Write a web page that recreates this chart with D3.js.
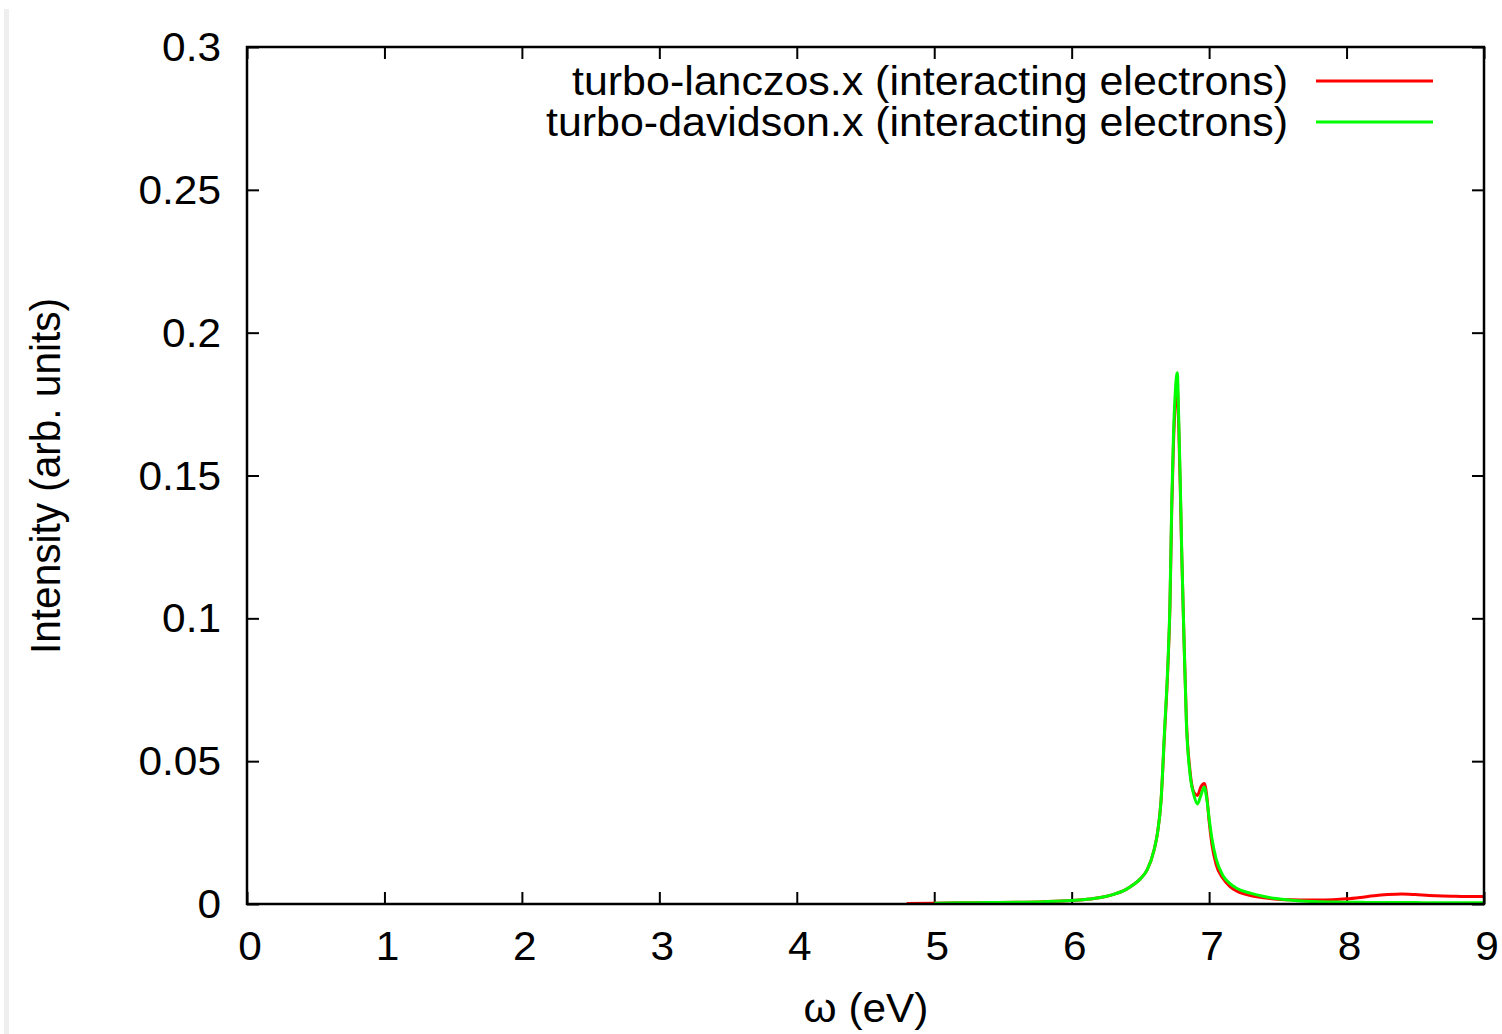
<!DOCTYPE html>
<html><head><meta charset="utf-8">
<script src="https://cdn.jsdelivr.net/npm/d3@7"></script>
<style>
html,body{margin:0;padding:0;background:#fff;}
svg{display:block;}
text{font-family:"Liberation Sans",Arial,Helvetica,sans-serif;fill:#000;}
</style></head>
<body>
<svg id="chart" width="1502" height="1034"></svg>
<script>
// ---- data ----
const energy = [4.8,5.0,5.2,5.4,5.6,5.8,6.0,6.1,6.2,6.3,6.4,6.45,6.5,6.55,6.6,6.625,6.65,6.675,6.7,6.715,6.728,6.74,6.755,6.768,6.78,6.79,6.80,6.815,6.835,6.86,6.89,6.915,6.94,6.965,6.985,7.0,7.02,7.05,7.1,7.15,7.2,7.3,7.4,7.5,7.6,7.7,7.8,7.9,8.0,8.1,8.2,8.3,8.4,8.5,8.6,8.7,8.8,8.9,9.0];
const lanczos = [0.0002,0.0003,0.0004,0.0005,0.0006,0.0008,0.0012,0.0016,0.0022,0.0033,0.0052,0.0068,0.0088,0.0120,0.019,0.025,0.036,0.059,0.083,0.104,0.138,0.160,0.176,0.181,0.165,0.146,0.124,0.097,0.064,0.047,0.039,0.038,0.041,0.0422,0.037,0.029,0.021,0.014,0.0090,0.0062,0.0046,0.0030,0.0022,0.0017,0.0015,0.0014,0.0014,0.0015,0.0018,0.0023,0.0029,0.0033,0.0035,0.0033,0.0030,0.0028,0.0027,0.0026,0.0026];
const davidson = [null,0.0003,0.0004,0.0005,0.0006,0.0008,0.0012,0.0016,0.0022,0.0033,0.0052,0.0068,0.0088,0.0120,0.019,0.025,0.036,0.060,0.084,0.105,0.140,0.163,0.180,0.186,0.168,0.148,0.125,0.097,0.063,0.046,0.038,0.035,0.038,0.041,0.036,0.030,0.023,0.016,0.0100,0.0072,0.0055,0.0038,0.0026,0.0018,0.0013,0.0010,0.0008,0.0007,0.0006,0.0006,0.0005,0.0005,0.0005,0.0005,0.0004,0.0004,0.0004,0.0004,0.0004];
const xTicks = [0,1,2,3,4,5,6,7,8,9];
const xTickLabels = ["0","1","2","3","4","5","6","7","8","9"];
const yTicks = [0,0.05,0.1,0.15,0.2,0.25,0.3];
const yTickLabels = ["0","0.05","0.1","0.15","0.2","0.25","0.3"];
const seriesNames = ["turbo-lanczos.x (interacting electrons)","turbo-davidson.x (interacting electrons)"];
const seriesColors = ["#ff0000","#00ff00"];

// ---- layout ----
const L=247, R=1484, T=47, B=904;
const svg = d3.select("#chart");
const x = d3.scaleLinear().domain([0,9]).range([L,R]);
const y = d3.scaleLinear().domain([0,0.3]).range([B,T]);
const FS = 40, SX = 1.06;

// faint left stripe
svg.append("rect").attr("x",4).attr("y",9).attr("width",5).attr("height",1025).attr("fill","#efefef");

// ticks (inward, mirrored)
const tickStyle = g => { g.select(".domain").remove(); g.selectAll("line").attr("stroke","#000").attr("stroke-width",2); g.selectAll("text").remove(); };
svg.append("g").attr("transform",`translate(0,${B})`).call(d3.axisBottom(x).tickValues(xTicks).tickSize(-12)).call(tickStyle);
svg.append("g").attr("transform",`translate(0,${T})`).call(d3.axisTop(x).tickValues(xTicks).tickSize(-12)).call(tickStyle);
svg.append("g").attr("transform",`translate(${L},0)`).call(d3.axisLeft(y).tickValues(yTicks).tickSize(-12)).call(tickStyle);
svg.append("g").attr("transform",`translate(${R},0)`).call(d3.axisRight(y).tickValues(yTicks).tickSize(-12)).call(tickStyle);

// curves
const line = d3.line().defined(d=>d[1]!==null).x(d=>x(d[0])).y(d=>y(d[1])).curve(d3.curveMonotoneX);
[lanczos,davidson].forEach((s,i)=>{
  svg.append("path").datum(energy.map((e,j)=>[e,s[j]]))
    .attr("d",line).attr("fill","none").attr("stroke",seriesColors[i]).attr("stroke-width",3).attr("stroke-linejoin","round");
});

// frame
svg.append("rect").attr("x",L).attr("y",T).attr("width",R-L).attr("height",B-T)
  .attr("fill","none").attr("stroke","#000").attr("stroke-width",2.5);

// tick labels
xTicks.forEach((v,i)=>{
  svg.append("text").attr("transform",`translate(${x(v)+3},960) scale(${SX},1)`)
    .attr("text-anchor","middle").attr("font-size",FS).text(xTickLabels[i]);
});
yTicks.forEach((v,i)=>{
  svg.append("text").attr("transform",`translate(221,${y(v)+14}) scale(${SX},1)`)
    .attr("text-anchor","end").attr("font-size",FS).text(yTickLabels[i]);
});

// axis titles
svg.append("text").attr("transform",`translate(866,1022) scale(${SX},1)`)
  .attr("text-anchor","middle").attr("font-size",FS).text("ω (eV)");
svg.append("text").attr("transform",`translate(60,476) scale(${SX},1) rotate(-90)`)
  .attr("text-anchor","middle").attr("font-size",FS)
  .attr("textLength",356).attr("lengthAdjust","spacingAndGlyphs").text("Intensity (arb. units)");

// legend
const legendLens = [716,742];
seriesNames.forEach((n,i)=>{
  const ly = 81 + i*41;
  svg.append("text").attr("x",1288).attr("y",ly+14)
    .attr("text-anchor","end").attr("font-size",FS)
    .attr("textLength",legendLens[i]).attr("lengthAdjust","spacingAndGlyphs").text(n);
  svg.append("line").attr("x1",1316).attr("x2",1433).attr("y1",ly).attr("y2",ly)
    .attr("stroke",seriesColors[i]).attr("stroke-width",3);
});
</script>
</body></html>
